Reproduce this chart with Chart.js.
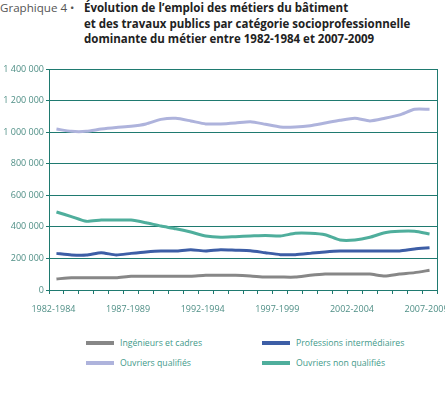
<!DOCTYPE html>
<html>
<head>
<meta charset="utf-8">
<script src="https://cdn.jsdelivr.net/npm/chart.js@4"></script>
<style>
  body { margin: 0; background: #fff; width: 445px; height: 394px; position: relative; overflow: hidden; }
  #title { position: absolute; left: 0; top: 0; font-family: "Open Sans", sans-serif; font-size: 11.5px; line-height: 15.5px; color: #222; }
  #title .num { position: absolute; left: 0; top: 0; font-weight: 400; font-size: 11.6px; color: #555; white-space: nowrap; }
  #title .txt { position: absolute; left: 84px; top: 0; font-weight: 700; white-space: nowrap; }
  #wrap { position: absolute; left: 0; top: 0; width: 445px; height: 330px; }
  #legend { position: absolute; left: 0; top: 0; font-family: "Open Sans", sans-serif; font-size: 8.7px; color: #3f9a8a; }
  .item { position: absolute; white-space: nowrap; }
  .item span { position: absolute; top: 5px; width: 28px; height: 4px; }
  .item b { position: absolute; font-weight: 400; left: 34px; top: 0; line-height: 14px; }
</style>
</head>
<body>
<div id="title">
  <div class="num">Graphique 4 •</div>
  <div class="txt">Évolution de l’emploi des métiers du bâtiment<br>et des travaux publics par catégorie socioprofessionnelle<br>dominante du métier entre 1982-1984 et 2007-2009</div>
</div>
<div id="wrap"><canvas id="c"></canvas></div>
<div id="legend"></div>
<script>
const periods = [
  '1982-1984', '1983-1985', '1984-1986', '1985-1987', '1986-1988',
  '1987-1989', '1988-1990', '1989-1991', '1990-1992', '1991-1993',
  '1992-1994', '1993-1995', '1994-1996', '1995-1997', '1996-1998',
  '1997-1999', '1998-2000', '1999-2001', '2000-2002', '2001-2003',
  '2002-2004', '2003-2005', '2004-2006', '2005-2007', '2006-2008',
  '2007-2009'
];
const ingenieurs = [70000, 78000, 78000, 78000, 78000, 87000, 87000, 87000, 87000, 87000,
  93000, 93000, 93000, 89000, 82000, 82000, 82000, 93000, 101000, 101000,
  101000, 101000, 89000, 101000, 110000, 125000];
const professions = [232000, 222000, 221000, 236000, 222000, 232000, 241000, 247000, 247000, 255000,
  247000, 255000, 252000, 249000, 236000, 224000, 224000, 232000, 241000, 247000,
  247000, 247000, 247000, 247000, 260000, 268000];
const ouvriersQualifies = [1020000, 1005000, 1005000, 1020000, 1030000, 1037000, 1052000, 1081000, 1088000, 1071000,
  1052000, 1052000, 1058000, 1066000, 1050000, 1033000, 1033000, 1041000, 1058000, 1075000,
  1088000, 1071000, 1088000, 1109000, 1145000, 1145000];
const ouvriersNonQualifies = [494000, 465000, 435000, 443000, 443000, 443000, 426000, 405000, 388000, 367000,
  342000, 334000, 338000, 342000, 346000, 342000, 359000, 359000, 350000, 317000,
  317000, 334000, 363000, 372000, 372000, 355000];
const seriesNames = ['Ingénieurs et cadres', 'Professions intermédiaires', 'Ouvriers qualifiés', 'Ouvriers non qualifiés'];
const seriesColors = ['#878787', '#3d5ea6', '#aeb3dc', '#4fae9c'];

const axisColor = '#1f7a70';
const tickColor = '#4f8f86';
const seriesData = [ingenieurs, professions, ouvriersQualifies, ouvriersNonQualifies];

const chart = new Chart(document.getElementById('c'), {
  type: 'line',
  data: {
    labels: periods,
    datasets: seriesNames.map((name, i) => ({
      label: name,
      data: seriesData[i],
      borderColor: seriesColors[i],
      backgroundColor: seriesColors[i],
      borderWidth: 3,
      pointRadius: 0,
      tension: 0.2,
    })),
  },
  options: {
    responsive: true,
    maintainAspectRatio: false,
    animation: false,
    layout: { padding: { left: 0, right: 8, top: 69, bottom: 10 } },
    scales: {
      x: {
        offset: true,
        grid: { offset: true, drawOnChartArea: false, drawTicks: true, tickLength: 4, color: axisColor },
        border: { color: axisColor },
        ticks: {
          autoSkip: false,
          maxRotation: 0,
          padding: 10,
          labelOffset: -3,
          color: tickColor,
          font: { family: 'Open Sans', size: 9 },
          callback: function (v, i) { return i % 5 === 0 ? periods[i] : ''; },
        },
        afterFit: (scale) => { scale.height = 30; scale.paddingLeft = 0; scale.paddingRight = 0; },
      },
      y: {
        min: 0,
        max: 1400000,
        grid: { color: axisColor, tickLength: 3 },
        border: { color: axisColor },
        ticks: {
          stepSize: 200000,
          padding: 2,
          color: tickColor,
          font: { family: 'Open Sans', size: 9 },
          callback: (v) => v.toString().replace(/\B(?=(\d{3})+(?!\d))/g, ' '),
        },
        afterFit: (scale) => { scale.width = 49; },
      },
      y2: {
        position: 'right',
        grid: { drawOnChartArea: false, drawTicks: false },
        border: { color: axisColor },
        ticks: { display: false },
        afterFit: (scale) => { scale.width = 0; },
      },
    },
    plugins: {
      legend: { display: false },
      tooltip: { enabled: false },
    },
  },
});

// legend in two columns, as in the print layout
const legendPos = [[86, 336], [262, 336], [86, 356], [262, 356]];
const legend = document.getElementById('legend');
chart.data.datasets.forEach((ds, i) => {
  const el = document.createElement('div');
  el.className = 'item';
  el.style.left = legendPos[i][0] + 'px';
  el.style.top = legendPos[i][1] + 'px';
  el.innerHTML = '<span style="background:' + ds.borderColor + '"></span><b>' + ds.label + '</b>';
  legend.appendChild(el);
});
</script>
</body>
</html>
